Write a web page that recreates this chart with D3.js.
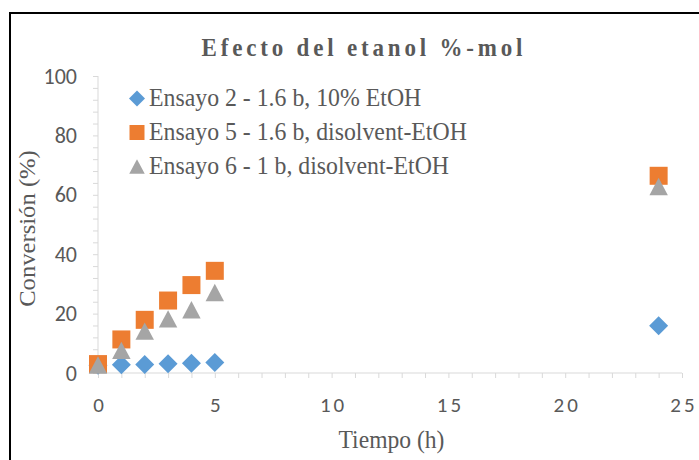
<!DOCTYPE html>
<html>
<head>
<meta charset="utf-8">
<script src="https://cdn.jsdelivr.net/npm/d3@7"></script>
<style>
  body { margin: 0; background: #fff; }
  svg { display: block; }
  .serif { font-family: "Liberation Serif", serif; }
  .num { font-family: Carlito, "Liberation Sans", sans-serif; }
</style>
</head>
<body>
<div id="chart"></div>
<script>
// chart values
const tiempos = [0, 1, 2, 3, 4, 5, 24];
const ensayo2 = [2.6, 2.8, 2.9, 3.1, 3.3, 3.5, 15.9];
const ensayo5 = [3.0, 11.3, 17.9, 24.4, 29.6, 34.4, 66.4];
const ensayo6 = [2.7, 7.6, 14.1, 18.2, 21.3, 27.1, 62.8];
const seriesNames = ["Ensayo 2 - 1.6 b, 10% EtOH", "Ensayo 5 - 1.6 b, disolvent-EtOH", "Ensayo 6 - 1 b, disolvent-EtOH"];
const xTicks = [0, 5, 10, 15, 20, 25];
const yTicks = [0, 20, 40, 60, 80, 100];

const W = 699, H = 460;
const txtColor = "#595959";
const axisColor = "#D9D9D9";
const stretch = 1.1; // the source picture is a little taller than wide

// Excel-style marker shapes (bbox centred)
const diamond = { draw(ctx, size) { const r = Math.sqrt(size) / 2; ctx.moveTo(0, -r); ctx.lineTo(r, 0); ctx.lineTo(0, r); ctx.lineTo(-r, 0); ctx.closePath(); } };
const square = { draw(ctx, size) { const r = Math.sqrt(size) / 2; ctx.rect(-r, -r, 2 * r, 2 * r); } };
const triangle = { draw(ctx, size) { const r = Math.sqrt(size) / 2; ctx.moveTo(0, -r * 0.94); ctx.lineTo(r, r * 0.94); ctx.lineTo(-r, r * 0.94); ctx.closePath(); } };

const series = [
  { name: seriesNames[0], values: ensayo2, color: "#5B9BD5", shape: diamond, size: 361, legSize: 256 },
  { name: seriesNames[1], values: ensayo5, color: "#ED7D31", shape: square, size: 324, legSize: 225 },
  { name: seriesNames[2], values: ensayo6, color: "#A5A5A5", shape: triangle, size: 340, legSize: 240 }
];

const svg = d3.select("#chart").append("svg")
  .attr("width", W).attr("height", H);

// chart border (runs off the page on the right and bottom)
svg.append("rect")
  .attr("x", 10).attr("y", 13)
  .attr("width", 720).attr("height", 480)
  .attr("fill", "none").attr("stroke", "#000").attr("stroke-width", 2);

const x = d3.scaleLinear().domain([0, 25]).range([98, 682]);
const y = d3.scaleLinear().domain([0, 100]).range([373, 76]);

// title
svg.append("text")
  .attr("class", "serif")
  .attr("transform", `translate(362,56) scale(1,${stretch})`)
  .attr("text-anchor", "middle")
  .attr("font-size", 23).attr("font-weight", "bold")
  .attr("textLength", 321).attr("lengthAdjust", "spacing")
  .attr("fill", txtColor)
  .text("Efecto del etanol %-mol");

// y axis: minor ticks every 4, labels every 20
const yMinor = svg.append("g").attr("transform", `translate(${x(0)},0)`)
  .call(d3.axisLeft(y).tickValues(d3.range(0, 101, 4)).tickSize(5).tickFormat(""));
yMinor.select(".domain").attr("stroke", axisColor).attr("d", `M0,${y(0)}V${y(100)}`);
yMinor.selectAll(".tick line").attr("stroke", axisColor);

const yLab = svg.append("g").attr("transform", `translate(${x(0)},0)`)
  .call(d3.axisLeft(y).tickValues(yTicks).tickSize(0).tickPadding(21));
yLab.select(".domain").remove();
yLab.attr("font-family", null).attr("font-size", null);
yLab.selectAll("text").attr("class", "num")
  .attr("font-size", 22).attr("fill", txtColor);

// x axis: minor ticks every 1, labels every 5
const xMinor = svg.append("g").attr("transform", `translate(0,${y(0)})`)
  .call(d3.axisBottom(x).tickValues(d3.range(0, 26, 1)).tickSize(5).tickFormat(""));
xMinor.select(".domain").attr("stroke", axisColor).attr("d", `M${x(0)},0H${x(25)}`);
xMinor.selectAll(".tick line").attr("stroke", axisColor);

const xLab = svg.append("g").attr("transform", `translate(0,${y(0)})`)
  .call(d3.axisBottom(x).tickValues(xTicks).tickSize(0));
xLab.select(".domain").remove();
xLab.attr("font-family", null).attr("font-size", null);
xLab.selectAll("text").attr("class", "num")
  .attr("y", 38.5).attr("dy", null).attr("dx", 1.5)
  .attr("font-size", 21).attr("letter-spacing", 3).attr("fill", txtColor);

// axis titles
svg.append("text")
  .attr("class", "serif")
  .attr("transform", `translate(35,228.5) scale(1,${stretch}) rotate(-90)`)
  .attr("text-anchor", "middle")
  .attr("font-size", 22.4).attr("fill", txtColor)
  .text("Conversión (%)");

svg.append("text")
  .attr("class", "serif")
  .attr("transform", `translate(391.5,447.5) scale(1,${stretch})`)
  .attr("text-anchor", "middle")
  .attr("font-size", 23.6).attr("fill", txtColor)
  .text("Tiempo (h)");

// markers
series.forEach(s => {
  svg.append("g").selectAll("path")
    .data(tiempos.map((t, i) => ({ t: t, v: s.values[i] })))
    .enter().append("path")
    .attr("transform", d => `translate(${x(d.t)},${y(d.v)})`)
    .attr("d", d3.symbol().type(s.shape).size(s.size))
    .attr("fill", s.color);
});

// legend
const legend = svg.append("g");
series.forEach((s, i) => {
  const base = 106 + i * 34;
  legend.append("path")
    .attr("transform", `translate(137,${base - 7.5})`)
    .attr("d", d3.symbol().type(s.shape).size(s.legSize))
    .attr("fill", s.color);
  legend.append("text")
    .attr("class", "serif")
    .attr("transform", `translate(149,${base}) scale(1,1.06)`)
    .attr("font-size", 23.8).attr("fill", txtColor)
    .text(s.name);
});
</script>
</body>
</html>
